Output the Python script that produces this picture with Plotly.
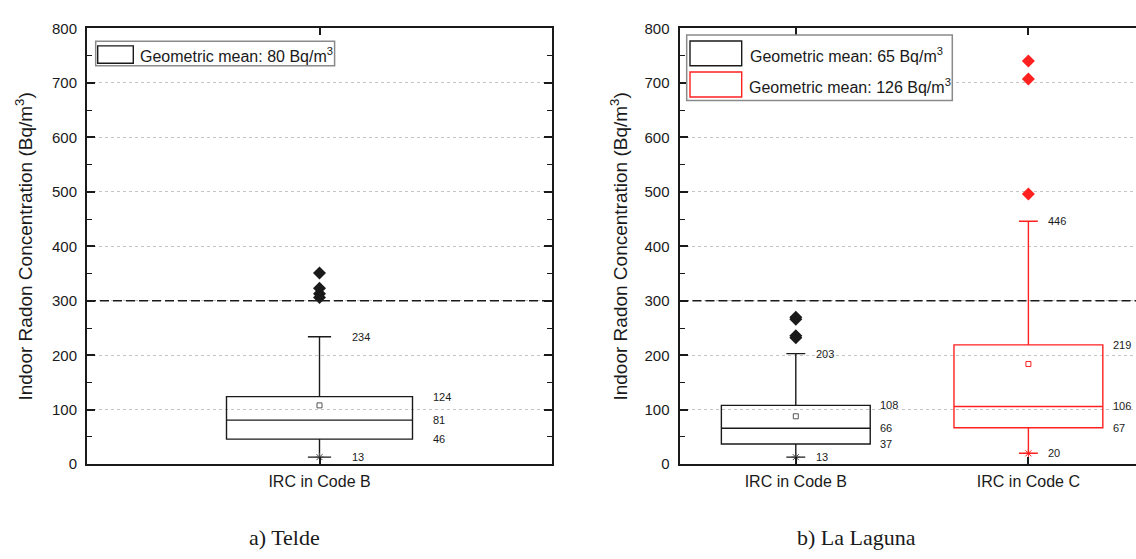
import plotly.graph_objects as go

# ---------------- data ----------------
telde_cats = ["IRC in Code B"]
telde_pos = [1]
telde_q1 = [46]
telde_median = [81]
telde_q3 = [124]
telde_min = [13]
telde_max = [234]
telde_mean = [108]
telde_outliers = [351, 323, 313, 306]
telde_gm = 80

laguna_cats = ["IRC in Code B", "IRC in Code C"]
laguna_pos = [1, 2]
laguna_q1 = [37, 67]
laguna_median = [66, 106]
laguna_q3 = [108, 219]
laguna_min = [13, 20]
laguna_max = [203, 446]
laguna_mean = [88, 184]
laguna_outliers_b = [270, 266, 236, 232]
laguna_outliers_c = [740, 707, 496]
laguna_gm = [65, 126]

threshold = 300
y_ticks = [0, 100, 200, 300, 400, 500, 600, 700, 800]

# ---------------- styling / layout helpers ----------------
W, H = 1136, 559
BLACK = "#1a1a1a"
RED = "#ff2020"
FONT = "Liberation Sans"


def px(x):
    return x / W


def py(y):
    return 1 - y / H


fig = go.Figure()

# --- Telde panel (x, y)
box_w_left = 0.4
fig.add_trace(go.Box(
    x=telde_pos, q1=telde_q1, median=telde_median, q3=telde_q3,
    lowerfence=telde_min, upperfence=telde_max,
    width=box_w_left, whiskerwidth=0.125,
    line=dict(color=BLACK, width=1.4), fillcolor="rgba(0,0,0,0)",
    xaxis="x", yaxis="y", showlegend=False, hoverinfo="skip"))
fig.add_trace(go.Scatter(
    x=telde_pos * len(telde_outliers), y=telde_outliers, mode="markers",
    marker=dict(symbol="diamond", size=10, color=BLACK),
    xaxis="x", yaxis="y", showlegend=False))
fig.add_trace(go.Scatter(
    x=telde_pos, y=telde_mean, mode="markers",
    marker=dict(symbol="square-open", size=5, color="#555", line=dict(width=1)),
    xaxis="x", yaxis="y", showlegend=False))
fig.add_trace(go.Scatter(
    x=telde_pos, y=telde_min, mode="markers",
    marker=dict(symbol="asterisk-open", size=7, color="#444", line=dict(width=1)),
    xaxis="x", yaxis="y", showlegend=False))

# --- La Laguna panel (x2, y2)
box_w_right = 0.64
colors_right = [BLACK, RED]
for i in range(len(laguna_pos)):
    fig.add_trace(go.Box(
        x=[laguna_pos[i]], q1=[laguna_q1[i]], median=[laguna_median[i]], q3=[laguna_q3[i]],
        lowerfence=[laguna_min[i]], upperfence=[laguna_max[i]],
        width=box_w_right, whiskerwidth=0.127,
        line=dict(color=colors_right[i], width=1.4), fillcolor="rgba(0,0,0,0)",
        xaxis="x2", yaxis="y2", showlegend=False, hoverinfo="skip"))
    fig.add_trace(go.Scatter(
        x=[laguna_pos[i]], y=[laguna_mean[i]], mode="markers",
        marker=dict(symbol="square-open", size=5,
                    color="#555" if i == 0 else RED, line=dict(width=1)),
        xaxis="x2", yaxis="y2", showlegend=False))
    fig.add_trace(go.Scatter(
        x=[laguna_pos[i]], y=[laguna_min[i]], mode="markers",
        marker=dict(symbol="asterisk-open", size=7,
                    color="#444" if i == 0 else RED, line=dict(width=1)),
        xaxis="x2", yaxis="y2", showlegend=False))

fig.add_trace(go.Scatter(
    x=[laguna_pos[0]] * len(laguna_outliers_b), y=laguna_outliers_b, mode="markers",
    marker=dict(symbol="diamond", size=10, color=BLACK),
    xaxis="x2", yaxis="y2", showlegend=False))
fig.add_trace(go.Scatter(
    x=[laguna_pos[1]] * len(laguna_outliers_c), y=laguna_outliers_c, mode="markers",
    marker=dict(symbol="diamond", size=10, color=RED),
    xaxis="x2", yaxis="y2", showlegend=False))

# ---------------- axes ----------------
ydom = [py(469.5), py(20)]
common_y = dict(
    range=[0, 800], tickvals=y_ticks, ticks="inside", ticklen=8, tickwidth=1.5,
    tickcolor=BLACK, showline=True, linecolor=BLACK, linewidth=2,
    showgrid=True, gridcolor="#c4c4c4", griddash="dot", gridwidth=1,
    zeroline=False, tickfont=dict(family=FONT, size=15, color=BLACK),
    minor=dict(dtick=50, ticks="inside", ticklen=5, tickwidth=1.2, tickcolor=BLACK, showgrid=False),
    ticklabelstandoff=5,
)
common_x = dict(
    ticks="inside", ticklen=7, tickwidth=1.5, tickcolor=BLACK,
    showline=True, linecolor=BLACK, linewidth=2, showgrid=False, zeroline=False,
    tickfont=dict(family=FONT, size=16, color=BLACK), ticklabelstandoff=2,
)

fig.update_layout(
    xaxis=dict(domain=[px(87), px(552)], range=[0.5, 1.5],
               tickvals=telde_pos, ticktext=telde_cats, anchor="y", mirror="ticks", **common_x),
    yaxis=dict(domain=ydom, anchor="x", mirror="ticks", **common_y),
    xaxis2=dict(domain=[px(679.5), 1.0], range=[0.5, 0.5 + (W - 679.5) / 232.6],
                tickvals=laguna_pos, ticktext=laguna_cats, anchor="y2", mirror="ticks", **common_x),
    yaxis2=dict(domain=ydom, anchor="x2", mirror=False, **common_y),
)

# threshold lines
for xr, yr in [("x", "y"), ("x2", "y2")]:
    fig.add_shape(type="line", xref=f"{xr} domain", yref=yr, x0=0, x1=1,
                  y0=threshold, y1=threshold,
                  line=dict(color=BLACK, width=1.6, dash="9px,4px"))

# ---------------- value labels ----------------
ann = []
lab_font = dict(family=FONT, size=11, color=BLACK)


def add_labels(xref, yref, pos, width, q1, med, q3, lo, hi, whisk_shift, box_shift):
    for v in (q1, med, q3):
        ann.append(dict(x=pos + width / 2, y=v, xref=xref, yref=yref, text=str(v),
                        showarrow=False, xanchor="left", yanchor="middle",
                        xshift=box_shift, font=lab_font))
    for v in (lo, hi):
        ann.append(dict(x=pos, y=v, xref=xref, yref=yref, text=str(v),
                        showarrow=False, xanchor="left", yanchor="middle",
                        xshift=whisk_shift, font=lab_font))


add_labels("x", "y", telde_pos[0], box_w_left, telde_q1[0], telde_median[0], telde_q3[0],
           telde_min[0], telde_max[0], 30, 18)
for i in range(len(laguna_pos)):
    add_labels("x2", "y2", laguna_pos[i], box_w_right, laguna_q1[i], laguna_median[i],
               laguna_q3[i], laguna_min[i], laguna_max[i], 18, 8)

# ---------------- axis titles ----------------
ytitle = "Indoor Radon Concentration (Bq/m<sup>3</sup>)"
for xc in (24, 619):
    ann.append(dict(x=px(xc), y=py(245), xref="paper", yref="paper", text=ytitle,
                    textangle=-90, showarrow=False, xanchor="center", yanchor="middle",
                    font=dict(family=FONT, size=19, color=BLACK)))

# ---------------- subtitles ----------------
ann.append(dict(x=px(284), y=py(545), xref="paper", yref="paper", text="a) Telde",
                showarrow=False, xanchor="center", yanchor="middle",
                font=dict(family="Liberation Serif", size=22, color=BLACK)))
ann.append(dict(x=px(856), y=py(545), xref="paper", yref="paper", text="b) La Laguna",
                showarrow=False, xanchor="center", yanchor="middle",
                font=dict(family="Liberation Serif", size=22, color=BLACK)))

# ---------------- legends (drawn) ----------------
shapes = []
leg_font = dict(family=FONT, size=16, color=BLACK)


def rect(x0, y0, x1, y1, color, width):
    shapes.append(dict(type="rect", xref="paper", yref="paper",
                       x0=px(x0), x1=px(x1), y0=py(y1), y1=py(y0),
                       line=dict(color=color, width=width), fillcolor="white", layer="above"))


rect(95.7, 33.3, 334.6, 58.5, "#8a8a8a", 1.5)
rect(97.7, 38, 133.3, 56, BLACK, 1.4)
ann.append(dict(x=px(138), y=py(47), xref="paper", yref="paper",
                text=f"Geometric mean: {telde_gm} Bq/m<sup>3</sup>", showarrow=False,
                xanchor="left", yanchor="middle", font=leg_font))

rect(686.7, 26.7, 952.3, 94.3, "#8a8a8a", 1.5)
rect(690, 33, 741.7, 58.5, BLACK, 1.4)
rect(690, 65, 741.7, 90.7, RED, 1.4)
ann.append(dict(x=px(748), y=py(47), xref="paper", yref="paper",
                text=f"Geometric mean: {laguna_gm[0]} Bq/m<sup>3</sup>", showarrow=False,
                xanchor="left", yanchor="middle", font=leg_font))
ann.append(dict(x=px(746.5), y=py(79), xref="paper", yref="paper",
                text=f"Geometric mean: {laguna_gm[1]} Bq/m<sup>3</sup>", showarrow=False,
                xanchor="left", yanchor="middle", font=leg_font))

fig.update_layout(
    width=W, height=H, margin=dict(l=0, r=0, t=0, b=0),
    paper_bgcolor="white", plot_bgcolor="white",
    annotations=ann, shapes=fig.layout.shapes + tuple(shapes),
    showlegend=False,
)

fig.write_html("out.html")
